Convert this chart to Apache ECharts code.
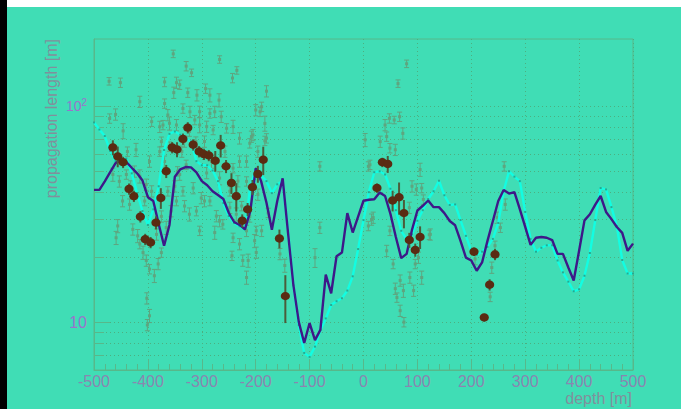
<!DOCTYPE html>
<html>
<head>
<meta charset="utf-8">
<script src="https://cdn.jsdelivr.net/npm/echarts@6/dist/echarts.min.js"></script>
<style>
html,body{margin:0;padding:0;width:686px;height:409px;background:#ffffff;overflow:hidden;}
#blk{position:absolute;left:0;top:0;width:7px;height:409px;background:#000;}
#bg{position:absolute;left:7px;top:7px;width:674px;height:402px;background:#40ddb5;}
#chart{position:absolute;left:0;top:0;width:686px;height:409px;}
</style>
</head>
<body>
<div id="blk"></div>
<div id="bg"></div>
<div id="chart"></div>
<script>
// ---- data ----
const depthGrid = [-500,-490,-480,-470,-460,-450,-440,-430,-420,-410,-400,-390,-380,-370,-360,-350,-340,-330,-320,-310,-300,-290,-280,-270,-260,-250,-240,-230,-220,-210,-200,-190,-180,-170,-160,-150,-140,-130,-120,-110,-100,-90,-80,-70,-60,-50,-40,-30,-20,-10,0,10,20,30,40,50,60,70,80,90,100,110,120,130,140,150,160,170,180,190,200,210,220,230,240,250,260,270,280,290,300,310,320,330,340,350,360,370,380,390,400,410,420,430,440,450,460,470,480,490,500];

const modelPurple = [41.0,41.0,44.9,49.5,54.5,56.8,55.2,51.9,48.9,45.3,37.9,36.4,28.5,22.6,28.2,47.2,51.0,52.3,52.1,49.4,45.0,43.1,40.4,38.8,37.2,32.1,29.1,28.2,26.9,32.7,51.6,45.0,35.7,26.8,36.4,46.4,25.9,14.8,10.0,8.0,9.9,8.25,9.2,16.6,13.6,20.2,21.0,32.0,26.0,30.8,36.5,36.9,37.1,39.9,38.4,31.7,24.8,19.8,20.7,26.8,32.9,34.6,36.6,34.1,34.1,32.0,29.4,28.1,23.8,19.9,19.3,17.3,18.9,23.8,29.4,36.4,40.9,39.4,40.0,33.4,27.6,22.8,24.6,24.8,24.6,24.0,20.7,20.7,17.9,15.6,21.4,29.6,31.6,35.0,38.4,32.4,30.0,27.6,25.9,21.4,23.1];

const modelCyan = [84.2,78.0,72.8,62.1,55.8,56.8,57.3,48.9,39.6,32.7,28.2,33.3,42.6,62.7,74.5,76.4,73.8,70.9,68.7,55.7,53.3,53.3,50.4,45.0,35.6,31.0,28.8,27.8,26.9,42.6,51.0,47.9,45.0,39.6,43.5,45.0,26.5,14.8,9.7,7.2,6.9,7.7,9.2,10.4,12.0,12.5,12.9,14.0,16.3,21.8,29.7,40.0,49.5,50.0,48.3,41.5,33.0,26.5,24.2,25.5,29.5,33.0,37.2,40.4,45.2,38.7,34.9,35.1,29.7,25.1,21.4,20.5,21.2,22.3,24.3,28.8,40.4,50.0,47.2,45.0,32.4,24.3,21.2,22.1,22.7,22.7,19.3,17.0,15.4,13.9,14.2,16.4,20.9,29.7,41.8,41.2,34.1,27.8,19.4,16.8,16.8];

const measX = [-465,-456,-446,-435,-426,-414,-405,-395,-385,-376,-366,-355,-346,-335,-326,-316,-305,-296,-287,-275,-265,-255,-245,-236,-225,-215,-206,-196,-186,-156,-145,25,35,45,54,66,75,85,96,105,205,224,234,244];
const measY = [64.4,58.6,55.0,41.4,38.3,30.8,24.2,23.4,28.9,37.6,50.0,64.4,63.1,70.5,79.6,66.3,61.7,60.0,59.2,55.9,65.8,52.7,44.1,38.3,29.5,33.3,42.2,48.6,56.5,24.4,13.2,41.8,55.0,54.0,36.6,37.9,32.0,24.0,21.6,24.8,21.2,10.5,14.9,20.6];
const measErrPct = [8,11,6,6,6,6,6,6,7,11,7,6,8,6,6,6,6,6,6,11,12,7,11,15,7,7,8,9,15,10,25,5,5,9,11,17,15,8,7,12,4.5,4,6,6];

// background single measurements: [depth, length, error %]
const singleMeas = [
[-472,130.6,4],[-451,128.7,5],[-460,91.7,6],[-471,87.8,5],[-446,76.9,8],[-422,62.9,7],[-353,175,4],[-329,153.5,5],
[-319,143,4],[-347,128.7,6],[-341,126,5],[-352,115.7,6],[-326,115.7,5],[-309,112.6,6],[-293,120.8,5],[-285,112.6,7],
[-267,164.8,4],[-243,135.2,5],[-235,146.7,4],[-180,117.5,6],[-189,99.5,5],[-200,96.0,6],[-183,83.3,8],[-208,72.4,6],
[-183,69.2,5],[-217,55.5,6],[-268,106.8,7],[-285,92.7,5],[-276,94.3,6],[-369,103,5],[-363,91.1,6],[-372,81.9,5],
[-360,83.4,7],[-347,81.9,6],[-335,97.7,5],[-322,94.3,6],[-313,86.4,5],[-304,81.9,8],[-291,80.5,6],[-279,77.7,5],
[-264,89.5,6],[-254,79.1,5],[-242,80.5,7],[-230,71.1,6],[-375,68.6,5],[-341,48.3,6],[-329,53.6,5],[-291,49.1,6],
[-267,46.5,7],[-242,51.7,5],[-230,55.5,6],[-378,61.7,5],[-369,55.5,6],[-465,48.3,7],[-453,44.9,6],[-440,48.3,5],
[-425,49.9,6],[-415,47.4,7],[-403,43.4,6],[-217,44.9,5],[-196,61.7,6],[-459,24.6,7],[-434,35.1,6],[-415,23.0,5],
[-428,26.9,6],[-409,21.0,7],[-403,19.3,6],[-397,17.6,5],[-388,16.4,7],[-381,18.6,6],[-375,21.0,5],[-384,25.5,6],
[-366,27.4,7],[-357,32.7,6],[-347,36.4,5],[-332,34.5,6],[-323,31.6,7],[-310,32.7,5],[-295,36.4,6],[-285,36.4,5],
[-276,26.0,7],[-273,31.0,6],[-261,28.4,5],[-248,33.9,6],[-236,31.6,7],[-217,26.5,6],[-199,26.5,5],[-199,21.0,6],
[-217,16.1,7],[-192,94.3,5],[-205,73.7,6],[-180,71.1,5],[-196,39.0,6],[-456,27.9,7],[-447,36.4,6],[-211,67.4,5],
[-267,29.4,6],[-242,24.6,5],[-230,23.0,6],[-214,19.3,7],[-189,26.5,6],[-177,32.1,5],[-155,20.7,6],[-146,18.3,7],
[-81,52.7,5],[-90,19.9,10],[-81,27.4,6],[9,52.7,5],[15,29.9,6],[-304,26.5,5],[-316,41.8,6],[-335,40.4,5],
[-301,37.6,6],[80,157.4,4],[64,127.4,4],[48,87.9,5],[57,86.4,4],[67,89.5,5],[40,81.9,6],[43,72.4,5],
[31,68.6,6],[3,69.9,7],[73,74.9,6],[49,64.0,5],[59,62.9,6],[12,53.6,5],[105,50.9,7],[90,42.6,6],
[108,41.8,5],[85,33.9,6],[9,27.9,5],[18,30.5,6],[49,26.5,5],[43,21.4,6],[55,18.6,5],[68,15.6,6],
[74,14.0,7],[86,16.1,6],[96,18.6,5],[102,19.9,6],[108,16.1,7],[59,14.3,6],[62,13.0,5],[93,14.0,6],
[124,25.5,6],[261,52.7,5],[263,35.1,6],[254,27.4,5],[248,30.5,6],[244,22.6,5],[238,17.9,6],[235,13.1,5],
[207,19.6,6],[122,25.4,5],[98,41.2,6],[111,37.0,5],[-402,12.9,6],[-397,10.7,7],[-401,9.7,6],[68,11.3,6],
[75,10.0,5],[-397,55.5,6],[-406,36.4,5],[-393,40.4,6],[-438,61.7,5],[-432,42.6,6],[-419,25.1,7],[-375,30.9,6],
[-363,40.4,5],[-350,42.6,6],[-345,50.0,5],[-337,61.7,6],[-311,68.7,5],[-295,68.7,6],[-282,55.5,7],[-257,61.7,6],
[-248,40.4,5],[-233,45.0,6],[-226,34.5,5],[-211,30.9,6],[-202,23.8,7],[-224,19.3,6],[-244,20.3,5],[-332,68.7,6],
[-323,76.4,5],[-304,94.4,6],[-360,65.1,5],[-378,80.4,6],[-393,84.9,5],[-415,105,6],[-369,129.7,5]
];

const xTickValues = [-500,-400,-300,-200,-100,0,100,200,300,400,500];
const yTickValues = [10, 100];
const yTickLabels = ['{n|10}', '{m|10}{s|2}'];
const yGridValues = [7,8,9,10,20,30,40,50,60,70,80,90,100];
const xTitle = 'depth [m]';
const yTitle = 'propagation length [m]';

// ---- styles ----
const frameColor = '#57b88a';
const gridColor = '#4caf80';
const labelColor = '#8a86b0';
const yLabelColor = '#9a74cc';
const titleColor = '#80909c';
const font = '"Liberation Sans", Arial, sans-serif';

const chart = echarts.init(document.getElementById('chart'), null, {renderer: 'svg'});

function errorRender(color, barColor, kind) {
  return function (params, api) {
    const x = api.value(0), y = api.value(1), e = api.value(2) / 100;
    const p = api.coord([x, y]);
    const hi = api.coord([x, y * (1 + e)]);
    const lo = api.coord([x, y * (1 - e)]);
    const children = [];
    if (kind === 'single') {
      children.push({type: 'line', shape: {x1: p[0], y1: hi[1], x2: p[0], y2: lo[1]}, style: {stroke: barColor, lineWidth: 1}});
      children.push({type: 'line', shape: {x1: p[0] - 2.5, y1: hi[1], x2: p[0] + 2.5, y2: hi[1]}, style: {stroke: barColor, lineWidth: 1}});
      children.push({type: 'line', shape: {x1: p[0] - 2.5, y1: lo[1], x2: p[0] + 2.5, y2: lo[1]}, style: {stroke: barColor, lineWidth: 1}});
      children.push({type: 'rect', shape: {x: p[0] - 1.5, y: p[1] - 1.5, width: 3, height: 3}, style: {fill: color}});
    } else {
      children.push({type: 'line', shape: {x1: p[0], y1: hi[1], x2: p[0], y2: lo[1]}, style: {stroke: barColor, lineWidth: 2}});
      children.push({type: 'ellipse', shape: {cx: p[0], cy: p[1], rx: 4.6, ry: 4.2}, style: {fill: color}});
    }
    return {type: 'group', children: children};
  };
}

const option = {
  animation: false,
  backgroundColor: 'transparent',
  grid: {left: 94, right: 53, top: 39, bottom: 39, show: true, borderColor: frameColor, borderWidth: 1, backgroundColor: 'transparent'},
  xAxis: {
    type: 'value', min: -500, max: 500, interval: 100,
    axisLine: {show: true, onZero: false, lineStyle: {color: frameColor, width: 1}},
    axisTick: {show: true, inside: true, length: 11, lineStyle: {color: frameColor}},
    minorTick: {show: true, splitNumber: 5, length: 6, lineStyle: {color: frameColor}},
    splitLine: {show: true, lineStyle: {color: gridColor, type: [1, 3], width: 1}},
    axisLabel: {color: labelColor, fontSize: 16, fontFamily: font, margin: 3, showMinLabel: true, showMaxLabel: true,
      customValues: xTickValues}
  },
  yAxis: [
    {
      type: 'log', logBase: 10, min: 6, max: 205, position: 'left',
      axisLine: {show: true, onZero: false, lineStyle: {color: frameColor, width: 1}},
      axisTick: {show: true, inside: true, length: 10, customValues: yGridValues, lineStyle: {color: frameColor}},
      axisLabel: {show: false},
      splitLine: {show: true, lineStyle: {color: gridColor, type: [1, 3], width: 1}}
    },
    {
      type: 'log', logBase: 10, min: 6, max: 205, position: 'left', offset: 0,
      axisLine: {show: false, onZero: false},
      axisTick: {show: true, inside: true, length: 16, customValues: yTickValues, lineStyle: {color: frameColor}},
      splitLine: {show: false},
      axisLabel: {
        show: true, customValues: yTickValues, margin: 7, fontFamily: font,
        formatter: function (v) {
          const i = yTickValues.findIndex(t => Math.abs(t - v) / t < 1e-6);
          return i >= 0 ? yTickLabels[i] : '';
        },
        rich: {
          n: {fontSize: 16, color: yLabelColor, fontFamily: font},
          m: {fontSize: 14, color: yLabelColor, fontFamily: font},
          s: {fontSize: 10, color: yLabelColor, fontFamily: font, verticalAlign: 'top', padding: [0, 0, 8, 0]}
        }
      }
    }
  ],
  graphic: [
    {type: 'text', x: 632, y: 398, style: {text: xTitle, fill: titleColor, font: '16px ' + font, textAlign: 'right', textVerticalAlign: 'middle'}},
    {type: 'text', x: 51, y: 39, rotation: Math.PI / 2, style: {text: yTitle, fill: titleColor, font: '16px ' + font, textAlign: 'right', textVerticalAlign: 'middle'}}
  ],
  series: [
    {
      type: 'custom', name: 'single', yAxisIndex: 0, clip: true, z: 1,
      renderItem: errorRender('#5ea57f', '#5ea57f', 'single'),
      data: singleMeas
    },
    {
      type: 'line', name: 'model B', yAxisIndex: 0, z: 2,
      data: depthGrid.map((d, i) => [d, modelCyan[i]]),
      showSymbol: true, symbol: 'rect', symbolSize: 2,
      itemStyle: {color: '#2aa890'},
      lineStyle: {color: '#12fde2', width: 2.4}
    },
    {
      type: 'line', name: 'model A', yAxisIndex: 0, z: 3,
      data: depthGrid.map((d, i) => [d, modelPurple[i]]),
      showSymbol: false,
      lineStyle: {color: '#3e1888', width: 2.4}
    },
    {
      type: 'custom', name: 'measured', yAxisIndex: 0, clip: true, z: 4,
      renderItem: errorRender('#5a2b12', '#4b5c3a', 'meas'),
      data: measX.map((d, i) => [d, measY[i], measErrPct[i]])
    }
  ]
};
chart.setOption(option);
</script>
</body>
</html>
